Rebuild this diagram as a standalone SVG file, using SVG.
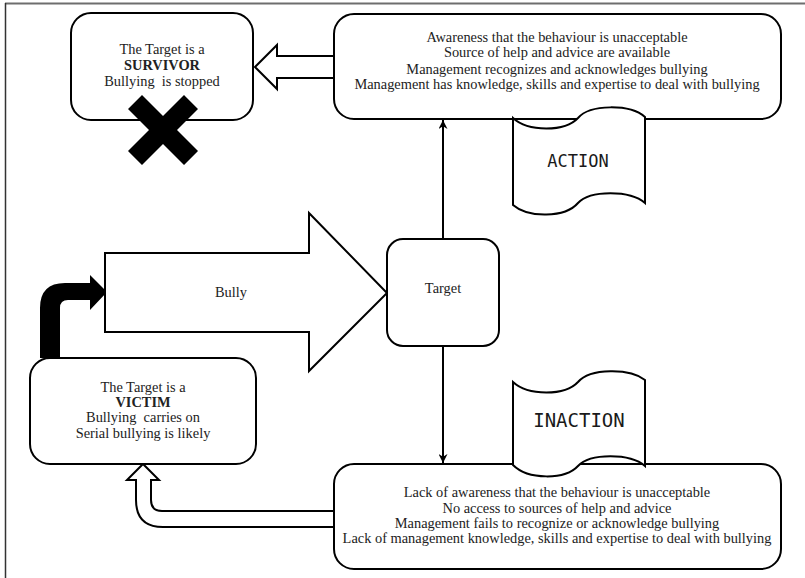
<svg xmlns="http://www.w3.org/2000/svg" width="805" height="578" viewBox="0 0 805 578">
<style>
.box{fill:#fff;stroke:#000;stroke-width:2}
.doc{fill:#fff;stroke:#000;stroke-width:2}
.hollow{fill:#fff;stroke:#000;stroke-width:2;stroke-linejoin:miter}
.t{font-family:"Liberation Serif","Times New Roman",serif;font-size:14.4px;fill:#222;text-anchor:middle}
.b{font-weight:bold}
.m{font-family:"DejaVu Sans Mono","Liberation Mono",monospace;fill:#1a1a1a;text-anchor:middle}
.conn{stroke:#000;stroke-width:2;fill:none}
</style>
<defs>
<marker id="ah" viewBox="0 0 10 10" refX="10" refY="5" markerWidth="11" markerHeight="9" markerUnits="userSpaceOnUse" orient="auto">
<path d="M0,0 L10,5 L0,10 L3,5 Z" fill="#000"/>
</marker>
</defs>
<rect x="0" y="0" width="805" height="578" fill="#fff"/>
<g id="frame">
<line x1="5" y1="3.5" x2="805" y2="3.5" stroke="#6e6e6e" stroke-width="2"/>
<line x1="5.5" y1="3" x2="5.5" y2="578" stroke="#333" stroke-width="1.5"/>
</g>
<g id="connectors">
<line class="conn" x1="443" y1="239" x2="443" y2="120" marker-end="url(#ah)"/>
<line class="conn" x1="443" y1="346" x2="443" y2="463" marker-end="url(#ah)"/>
<path id="to-survivor" class="hollow" d="M335,56 L277,56 L277,45 L255,67 L277,89 L277,78 L335,78"/>
<path id="to-victim" class="hollow" d="M335,511 L162,511 Q151,511 151,500 L151,480 L159,480 L143,464 L127,480 L136,480 L136,500 Q136,527 163,527 L335,527"/>
<path id="repeat" d="M40,358 L40,308 Q40,283 65,283 L90,283 L90,275 L107,292 L90,310 L90,300 L68,300 Q60,300 60,308 L60,358 Z" fill="#000"/>
</g>
<g id="bully">
<polygon class="hollow" points="105,253 309,253 309,213 387,293 309,371 309,332 105,332"/>
<text class="t" x="231" y="297">Bully</text>
</g>
<g id="survivor">
<rect class="box" x="71" y="13" width="182" height="107" rx="20"/>
<text class="t" x="162" y="54">The Target is a</text>
<text class="t b" x="162" y="70">SURVIVOR</text>
<text class="t" x="162" y="86" xml:space="preserve">Bullying  is stopped</text>
</g>
<g id="cross">
<polygon points="142,95 163,116 184,95 198,109 177,130 198,151 184,165 163,144 142,165 128,151 149,130 128,109" fill="#000"/>
</g>
<g id="action-box">
<rect class="box" x="334" y="14" width="447" height="105" rx="20"/>
<text class="t" x="557" y="42">Awareness that the behaviour is unacceptable</text>
<text class="t" x="557" y="57">Source of help and advice are available</text>
<text class="t" x="557" y="74">Management recognizes and acknowledges bullying</text>
<text class="t" x="557" y="89">Management has knowledge, skills and expertise to deal with bullying</text>
</g>
<g id="action">
<path class="doc" d="M513,118 C528,132 565,132 578,118 C590,104 630,104 645,117 L645,203 C630,190 590,190 578,203 C565,218 528,218 513,205 Z"/>
<text class="m" x="578" y="167" font-size="17">ACTION</text>
</g>
<g id="target">
<rect class="box" x="387" y="239" width="112" height="107" rx="16"/>
<text class="t" x="443" y="293">Target</text>
</g>
<g id="victim">
<rect class="box" x="30" y="358" width="226" height="106" rx="20"/>
<text class="t" x="143" y="392">The Target is a</text>
<text class="t b" x="143" y="407">VICTIM</text>
<text class="t" x="143" y="422" xml:space="preserve">Bullying  carries on</text>
<text class="t" x="143" y="438">Serial bullying is likely</text>
</g>
<g id="inaction-box">
<rect class="box" x="334" y="464" width="447" height="105" rx="20"/>
<text class="t" x="557" y="497">Lack of awareness that the behaviour is unacceptable</text>
<text class="t" x="557" y="513">No access to sources of help and advice</text>
<text class="t" x="557" y="528">Management fails to recognize or acknowledge bullying</text>
<text class="t" x="557" y="543">Lack of management knowledge, skills and expertise to deal with bullying</text>
</g>
<g id="inaction">
<path class="doc" d="M513,382 C528,396 565,396 578,382 C590,368 630,368 645,380 L645,466 C630,453 590,453 578,466 C565,480 528,480 513,465 Z"/>
<text class="m" x="579" y="427" font-size="19">INACTION</text>
</g>
</svg>
